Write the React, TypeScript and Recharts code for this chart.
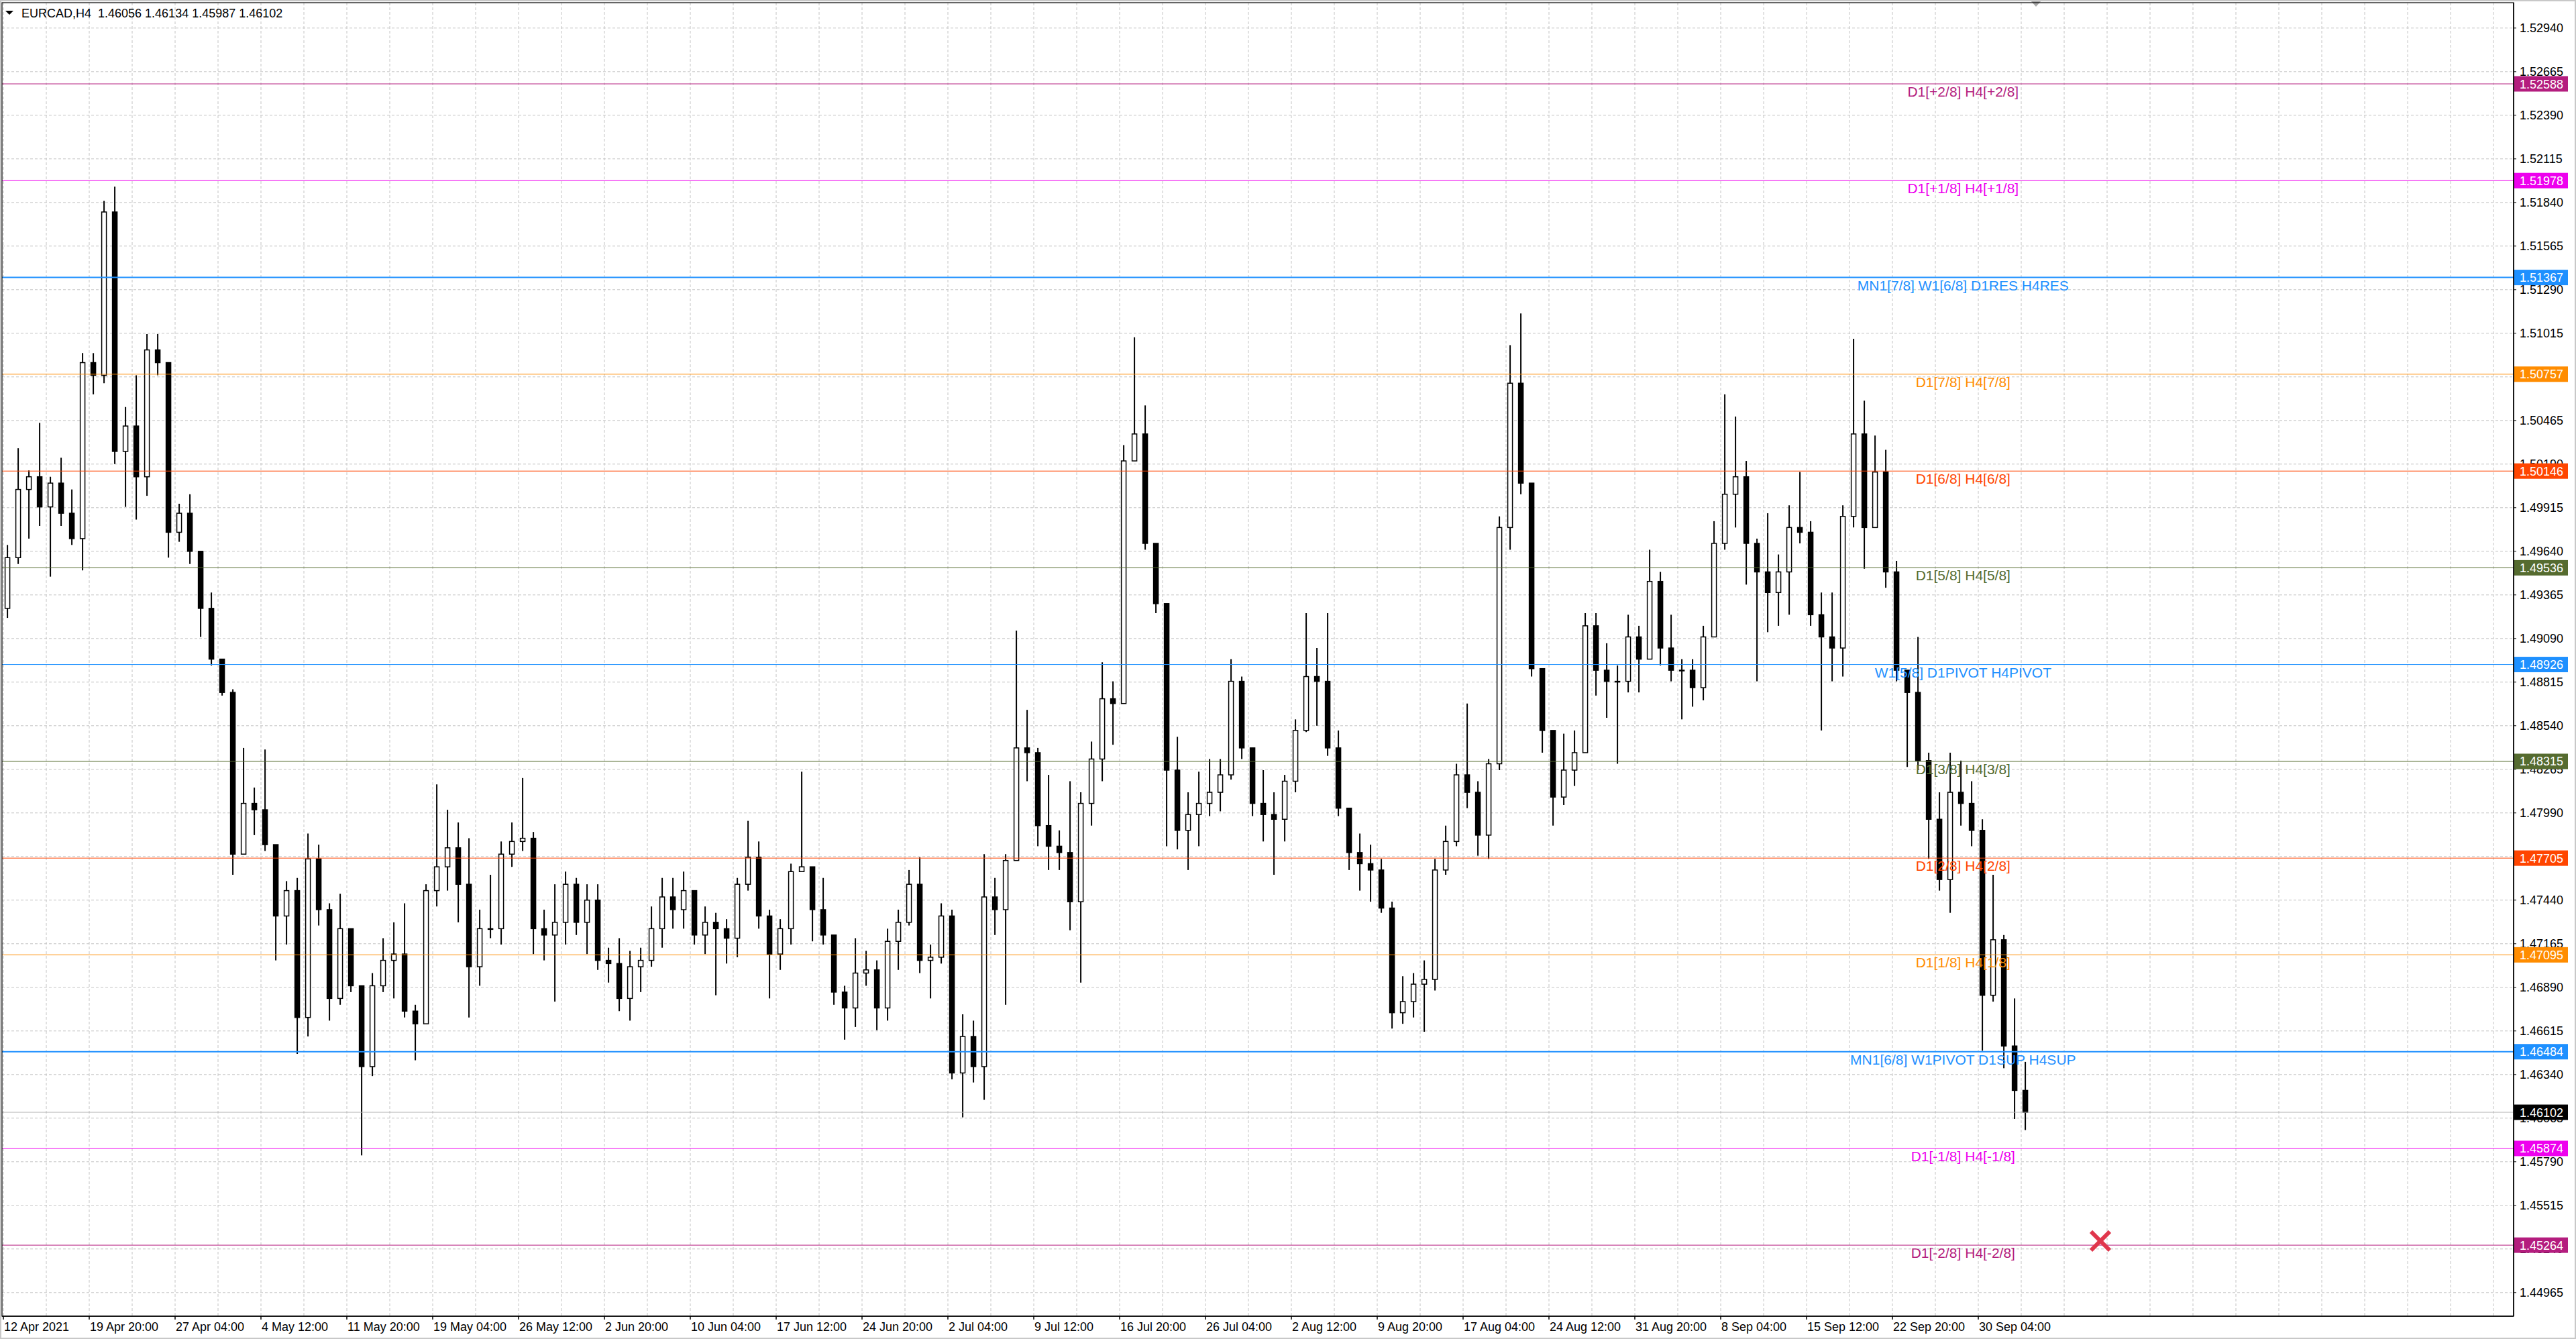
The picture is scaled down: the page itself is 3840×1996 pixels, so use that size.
import React from 'react';
import { ComposedChart, Bar, XAxis, YAxis, CartesianGrid, ReferenceLine, ReferenceDot } from 'recharts';

const FONT = '"Liberation Sans", Arial, sans-serif';

// ---- header ----
const SYMBOL = 'EURCAD,H4';
const LAST_OHLC = [1.46056, 1.46134, 1.45987, 1.46102];

// ---- candles: one per 4 H4 bars (16 hours) ----
const FIRST_OPEN = 1.4928;
const highs = [
  1.4968, 1.5029, 1.5015, 1.5045, 1.5011, 1.5023, 1.5003, 1.5089, 1.5089, 1.5185,
  1.5194, 1.5055, 1.5075, 1.5101, 1.5101, 1.5083, 1.4994, 1.5000, 1.4964, 1.4938,
  1.4896, 1.4877, 1.4840, 1.4815, 1.4839, 1.4779, 1.4756, 1.4758, 1.4786, 1.4779,
  1.4742, 1.4748, 1.4726, 1.4690, 1.4698, 1.4720, 1.4730, 1.4742, 1.4678, 1.4754,
  1.4817, 1.4801, 1.4793, 1.4783, 1.4738, 1.4760, 1.4781, 1.4793, 1.4821, 1.4787,
  1.4738, 1.4754, 1.4762, 1.4758, 1.4754, 1.4754, 1.4714, 1.4720, 1.4712, 1.4714,
  1.4740, 1.4758, 1.4758, 1.4762, 1.4750, 1.4740, 1.4736, 1.4732, 1.4758, 1.4794,
  1.4781, 1.4738, 1.4732, 1.4767, 1.4825, 1.4765, 1.4758, 1.4722, 1.4690, 1.4720,
  1.4712, 1.4706, 1.4726, 1.4738, 1.4763, 1.4771, 1.4716, 1.4742, 1.4738, 1.4672,
  1.4668, 1.4773, 1.4758, 1.4773, 1.4914, 1.4864, 1.4840, 1.4823, 1.4788, 1.4819,
  1.4812, 1.4844, 1.4894, 1.4882, 1.5031, 1.5099, 1.5056, 1.4969, 1.4931, 1.4847,
  1.4812, 1.4825, 1.4833, 1.4833, 1.4896, 1.4885, 1.4840, 1.4826, 1.4812, 1.4823,
  1.4858, 1.4925, 1.4903, 1.4925, 1.4851, 1.4802, 1.4786, 1.4779, 1.4770, 1.4743,
  1.4696, 1.4698, 1.4706, 1.4770, 1.4791, 1.4830, 1.4868, 1.4819, 1.4833, 1.4986,
  1.5094, 1.5114, 1.5007, 1.4890, 1.4851, 1.4849, 1.4851, 1.4925, 1.4925, 1.4906,
  1.4892, 1.4924, 1.4917, 1.4965, 1.4951, 1.4924, 1.4896, 1.4896, 1.4917, 1.4983,
  1.5063, 1.5049, 1.5021, 1.4972, 1.4988, 1.4962, 1.4993, 1.5014, 1.4983, 1.4938,
  1.4938, 1.4993, 1.5098, 1.5059, 1.5037, 1.5028, 1.4958, 1.4889, 1.4910, 1.4837,
  1.4812, 1.4837, 1.4832, 1.4819, 1.4795, 1.4760, 1.4722, 1.4682, 1.4642,
];
const lows = [
  1.4922, 1.4956, 1.4972, 1.4980, 1.4948, 1.4980, 1.4968, 1.4952, 1.5063, 1.5070,
  1.5019, 1.4992, 1.4984, 1.4999, 1.5075, 1.4960, 1.4970, 1.4956, 1.4910, 1.4892,
  1.4873, 1.4760, 1.4773, 1.4785, 1.4775, 1.4706, 1.4716, 1.4647, 1.4658, 1.4728,
  1.4668, 1.4678, 1.4686, 1.4583, 1.4633, 1.4686, 1.4682, 1.4670, 1.4643, 1.4666,
  1.4740, 1.4750, 1.4730, 1.4670, 1.4690, 1.4720, 1.4716, 1.4765, 1.4775, 1.4710,
  1.4706, 1.4680, 1.4716, 1.4722, 1.4710, 1.4700, 1.4692, 1.4674, 1.4668, 1.4686,
  1.4702, 1.4714, 1.4726, 1.4726, 1.4716, 1.4710, 1.4684, 1.4704, 1.4708, 1.4750,
  1.4726, 1.4682, 1.4700, 1.4716, 1.4762, 1.4718, 1.4716, 1.4678, 1.4656, 1.4664,
  1.4690, 1.4662, 1.4668, 1.4700, 1.4728, 1.4698, 1.4682, 1.4704, 1.4631, 1.4607,
  1.4629, 1.4618, 1.4722, 1.4678, 1.4769, 1.4819, 1.4778, 1.4763, 1.4763, 1.4725,
  1.4692, 1.4791, 1.4819, 1.4842, 1.4875, 1.5021, 1.4965, 1.4925, 1.4778, 1.4776,
  1.4763, 1.4778, 1.4797, 1.4800, 1.4820, 1.4833, 1.4797, 1.4781, 1.4760, 1.4781,
  1.4812, 1.4850, 1.4854, 1.4835, 1.4797, 1.4763, 1.4750, 1.4743, 1.4736, 1.4663,
  1.4666, 1.4670, 1.4661, 1.4687, 1.4760, 1.4778, 1.4802, 1.4772, 1.4770, 1.4826,
  1.4965, 1.5000, 1.4885, 1.4837, 1.4791, 1.4804, 1.4816, 1.4837, 1.4873, 1.4859,
  1.4830, 1.4875, 1.4875, 1.4903, 1.4892, 1.4882, 1.4858, 1.4866, 1.4870, 1.4920,
  1.4965, 1.4979, 1.4943, 1.4882, 1.4913, 1.4917, 1.4924, 1.4969, 1.4917, 1.4851,
  1.4882, 1.4885, 1.4979, 1.4953, 1.4979, 1.4941, 1.4882, 1.4828, 1.4826, 1.4770,
  1.4750, 1.4736, 1.4791, 1.4778, 1.4649, 1.4680, 1.4638, 1.4606, 1.4599,
];
const closes = [
  1.4960, 1.5003, 1.5011, 1.4992, 1.5007, 1.4988, 1.4972, 1.5083, 1.5075, 1.5178,
  1.5027, 1.5043, 1.5011, 1.5091, 1.5083, 1.4976, 1.4988, 1.4964, 1.4928, 1.4896,
  1.4875, 1.4773, 1.4805, 1.4801, 1.4779, 1.4734, 1.4750, 1.4670, 1.4770, 1.4738,
  1.4682, 1.4726, 1.4690, 1.4639, 1.4690, 1.4706, 1.4710, 1.4674, 1.4666, 1.4750,
  1.4765, 1.4777, 1.4754, 1.4702, 1.4726, 1.4726, 1.4773, 1.4781, 1.4783, 1.4726,
  1.4722, 1.4730, 1.4754, 1.4730, 1.4744, 1.4706, 1.4704, 1.4682, 1.4702, 1.4706,
  1.4726, 1.4746, 1.4738, 1.4750, 1.4722, 1.4730, 1.4726, 1.4720, 1.4754, 1.4771,
  1.4734, 1.4710, 1.4726, 1.4762, 1.4765, 1.4738, 1.4722, 1.4686, 1.4676, 1.4698,
  1.4700, 1.4676, 1.4718, 1.4730, 1.4754, 1.4706, 1.4708, 1.4734, 1.4635, 1.4658,
  1.4639, 1.4746, 1.4738, 1.4769, 1.4840, 1.4837, 1.4791, 1.4778, 1.4774, 1.4743,
  1.4805, 1.4833, 1.4871, 1.4868, 1.5021, 1.5038, 1.4969, 1.4931, 1.4826, 1.4788,
  1.4798, 1.4805, 1.4812, 1.4823, 1.4882, 1.4840, 1.4805, 1.4798, 1.4795, 1.4819,
  1.4851, 1.4885, 1.4882, 1.4840, 1.4802, 1.4774, 1.4767, 1.4763, 1.4739, 1.4673,
  1.4680, 1.4691, 1.4694, 1.4763, 1.4781, 1.4823, 1.4812, 1.4785, 1.4830, 1.4979,
  1.5070, 1.5007, 1.4890, 1.4851, 1.4809, 1.4826, 1.4837, 1.4917, 1.4889, 1.4882,
  1.4882, 1.4910, 1.4896, 1.4945, 1.4903, 1.4889, 1.4889, 1.4878, 1.4910, 1.4969,
  1.5000, 1.5011, 1.4969, 1.4951, 1.4938, 1.4951, 1.4979, 1.4976, 1.4924, 1.4910,
  1.4903, 1.4986, 1.5038, 1.4979, 1.5014, 1.4951, 1.4889, 1.4875, 1.4832, 1.4795,
  1.4757, 1.4812, 1.4805, 1.4788, 1.4684, 1.4719, 1.4652, 1.4624, 1.46102,
];

// total 16-hour slots visible on the time axis (incl. empty future space)
const SLOT_COUNT = 234;

// ---- time axis labels (every 8 slots = 32 H4 bars) ----
const xTickLabels = [
  '12 Apr 2021', '19 Apr 20:00', '27 Apr 04:00', '4 May 12:00', '11 May 20:00', '19 May 04:00',
  '26 May 12:00', '2 Jun 20:00', '10 Jun 04:00', '17 Jun 12:00', '24 Jun 20:00', '2 Jul 04:00',
  '9 Jul 12:00', '16 Jul 20:00', '26 Jul 04:00', '2 Aug 12:00', '9 Aug 20:00', '17 Aug 04:00',
  '24 Aug 12:00', '31 Aug 20:00', '8 Sep 04:00', '15 Sep 12:00', '22 Sep 20:00', '30 Sep 04:00',
];
const X_TICK_STEP = 8;
const GRID_STEP = 4;

// ---- price axis ----
const yTicks = [
  1.44965, 1.4524, 1.45515, 1.4579, 1.46065, 1.4634, 1.46615, 1.4689, 1.47165, 1.4744,
  1.47715, 1.4799, 1.48265, 1.4854, 1.48815, 1.4909, 1.49365, 1.4964, 1.49915, 1.5019,
  1.50465, 1.5074, 1.51015, 1.5129, 1.51565, 1.5184, 1.52115, 1.5239, 1.52665, 1.5294,
];
const Y_DOMAIN: [number, number] = [1.44816, 1.531];

// ---- Murrey-math style levels ----
const levelValues = [
  1.52588, 1.51978, 1.51367, 1.50757, 1.50146, 1.49536, 1.48926,
  1.48315, 1.47705, 1.47095, 1.46484, 1.45874, 1.45264,
];
const levelLabels = [
  'D1[+2/8] H4[+2/8]', 'D1[+1/8] H4[+1/8]', 'MN1[7/8] W1[6/8] D1RES H4RES', 'D1[7/8] H4[7/8]',
  'D1[6/8] H4[6/8]', 'D1[5/8] H4[5/8]', 'W1[5/8] D1PIVOT H4PIVOT', 'D1[3/8] H4[3/8]',
  'D1[2/8] H4[2/8]', 'D1[1/8] H4[1/8]', 'MN1[6/8] W1PIVOT D1SUP H4SUP', 'D1[-1/8] H4[-1/8]',
  'D1[-2/8] H4[-2/8]',
];
const levelColors = [
  '#B41D7E', '#EE00EE', '#1E90FF', '#FF8C00', '#FF4500', '#556B2F', '#1E90FF',
  '#556B2F', '#FF4500', '#FF8C00', '#1E90FF', '#EE00EE', '#B41D7E',
];
const levelWidths = [1, 1, 2, 1, 1, 1, 1, 1, 1, 1, 2, 1, 1];

const currentPrice = 1.46102;
const markerSlot = 195;
const markerPrice = 1.4529;

const data = Array.from({ length: SLOT_COUNT }, (_, i) => {
  if (i < closes.length) {
    const open = i === 0 ? FIRST_OPEN : closes[i - 1];
    return { slot: i, open, high: highs[i], low: lows[i], close: closes[i], range: [lows[i], highs[i]] };
  }
  return { slot: i, open: null, high: null, low: null, close: null, range: null };
});
const xTickSlots = xTickLabels.map((_, i) => i * X_TICK_STEP);

function Candle(props: any) {
  const { x, y, width, height, payload } = props;
  if (!payload || payload.high == null) return null;
  const { open, close, high, low } = payload;
  const top = Math.min(y, y + height);
  const h = Math.abs(height);
  const span = high - low || 1e-9;
  const py = (p: number) => top + ((high - p) / span) * h;
  const cx = x + width / 2;
  const bTop = py(Math.max(open, close));
  const bBot = py(Math.min(open, close));
  const bull = close >= open;
  const bw = 7;
  return (
    <g>
      <line x1={cx} x2={cx} y1={top} y2={top + h} stroke="#000" strokeWidth={2} />
      <rect x={cx - bw / 2} y={bTop} width={bw} height={Math.max(1, bBot - bTop)}
        fill={bull ? '#fff' : '#000'} stroke="#000" strokeWidth={1.5} />
    </g>
  );
}

function YTick(props: any) {
  const { x, y, payload } = props;
  const v = payload.value;
  const li = levelValues.indexOf(v);
  if (li >= 0 || v === currentPrice) {
    const color = li >= 0 ? levelColors[li] : '#000';
    return (
      <g>
        <rect x={x + 1} y={y - 11.5} width={80} height={23} fill={color} />
        <text x={x + 9} y={y + 6.5} fill="#fff" fontFamily={FONT} fontSize={18}>{v.toFixed(5)}</text>
      </g>
    );
  }
  return (
    <g>
      <line x1={x} x2={x + 4} y1={y} y2={y} stroke="#000" strokeWidth={1} />
      <text x={x + 9} y={y + 6.5} fill="#000" fontFamily={FONT} fontSize={18}>{v.toFixed(5)}</text>
    </g>
  );
}

function XTick(props: any) {
  const { x, y, payload } = props;
  const idx = xTickSlots.indexOf(payload.value);
  if (idx < 0) return null;
  const tx = x - 6;
  return (
    <g>
      <line x1={tx} x2={tx} y1={y} y2={y + 5} stroke="#000" strokeWidth={1.5} />
      <text x={tx + 1} y={y + 22} fill="#000" fontFamily={FONT} fontSize={18}>{xTickLabels[idx]}</text>
    </g>
  );
}

function levelLabel(i: number) {
  return (p: any) => {
    const vb = p.viewBox || {};
    if (vb.x == null) return null;
    return (
      <text x={vb.x + vb.width * 0.7808} y={vb.y + 19} textAnchor="middle" fill={levelColors[i]}
        fontFamily={FONT} fontSize={21}>{levelLabels[i]}</text>
    );
  };
}

const XMark = (p: any) => {
  const { cx, cy } = p;
  if (cx == null) return null;
  return (
    <g>
      <line x1={cx - 14} y1={cy - 14} x2={cx + 14} y2={cy + 14} stroke="#E0364C" strokeWidth={6} />
      <line x1={cx - 14} y1={cy + 14} x2={cx + 14} y2={cy - 14} stroke="#E0364C" strokeWidth={6} />
    </g>
  );
};

const ShiftMark = (p: any) => {
  const { cx, cy } = p;
  if (cx == null) return null;
  return <polygon points={`${cx - 8},${cy - 3} ${cx + 8},${cy - 3} ${cx},${cy + 6}`} fill="#A8A8A8" />;
};

export default function App() {
  const header = `${SYMBOL}  ${LAST_OHLC.map((v) => v.toFixed(5)).join(' ')}`;
  return (
    <div style={{ position: 'absolute', left: 0, top: 0, width: 3840, height: 1996, background: '#fff' }}>
      <ComposedChart width={3840} height={1996} data={data}
        margin={{ top: 4, right: 0, bottom: 0, left: 3 }} barCategoryGap="10%">
        <CartesianGrid stroke="#C4C4C4" strokeDasharray="4 3" horizontalValues={yTicks}
          verticalCoordinatesGenerator={(args: any) => {
            const off = (args && args.offset) || {};
            const left = off.left ?? 3;
            const w = off.width ?? 3744;
            const out: number[] = [];
            for (let k = 0; k * GRID_STEP < SLOT_COUNT; k++) out.push(left + (w * k * GRID_STEP) / SLOT_COUNT + 2);
            return out;
          }} />
        <XAxis dataKey="slot" type="category" ticks={xTickSlots} interval={0} height={34}
          tickSize={0} tickMargin={0} axisLine={{ stroke: '#000', strokeWidth: 1.5 }} tickLine={false}
          tick={(p: any) => <XTick {...p} />} />
        <YAxis orientation="right" type="number" domain={Y_DOMAIN} allowDataOverflow width={93}
          ticks={[...yTicks, ...levelValues, currentPrice]} interval={0} tickSize={0} tickMargin={0}
          axisLine={{ stroke: '#000', strokeWidth: 1.5 }} tickLine={false}
          tick={(p: any) => <YTick {...p} />} />
        {levelValues.map((v, i) => (
          <ReferenceLine key={`lv${i}`} y={v} stroke={levelColors[i]} strokeWidth={levelWidths[i]}
            label={levelLabel(i)} />
        ))}
        <ReferenceLine y={currentPrice} stroke="#B4B4B4" strokeWidth={1} />
        <Bar dataKey="range" shape={(p: any) => <Candle {...p} />} isAnimationActive={false} />
        <ReferenceDot x={markerSlot} y={markerPrice} r={0} shape={(p: any) => <XMark {...p} />} />
        <ReferenceDot x={closes.length} y={Y_DOMAIN[1]} r={0} shape={(p: any) => <ShiftMark {...p} />} />
      </ComposedChart>
      <svg width={3840} height={1996} style={{ position: 'absolute', left: 0, top: 0, pointerEvents: 'none' }}>
        <rect x={1} y={1} width={3838} height={1994} fill="none" stroke="#C8C8C8" strokeWidth={2} />
        <rect x={3} y={4} width={3744} height={1958} fill="none" stroke="#000" strokeWidth={1.2} />
        <polygon points="8,16 20,16 14,22" fill="#000" />
        <text x={32} y={26} fontFamily={FONT} fontSize={18} fill="#000" style={{ whiteSpace: 'pre' }}>{header}</text>
      </svg>
    </div>
  );
}
